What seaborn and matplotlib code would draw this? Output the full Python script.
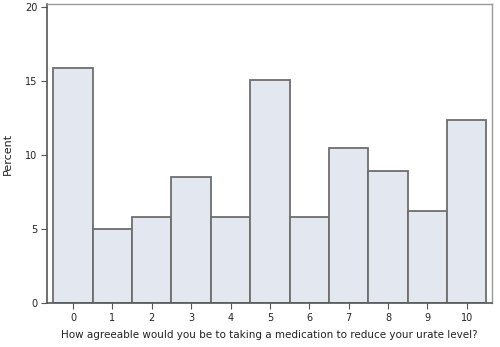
import matplotlib
matplotlib.use('Agg')
import matplotlib.pyplot as plt
import seaborn as sns
import pandas as pd

# Data
scores = ['0', '1', '2', '3', '4', '5', '6', '7', '8', '9', '10']
percent = [15.9, 5.0, 5.8, 8.5, 5.8, 15.1, 5.8, 10.5, 8.9, 6.2, 12.4]

df = pd.DataFrame({'score': scores, 'percent': percent})

sns.set_style('white')
plt.rcParams['font.family'] = ['DejaVu Sans']

fig = plt.figure(figsize=(5, 3.47), dpi=100)
ax = fig.add_axes([0.094, 0.127, 0.89, 0.861])

sns.barplot(data=df, x='score', y='percent', order=scores, width=1.0,
            color='#E3E7F0', edgecolor='#6E6E6E', linewidth=1.3,
            saturation=1, ax=ax)

ax.set_xlim(-0.66, 10.64)
ax.set_ylim(0, 20.2)
ax.set_yticks([0, 5, 10, 15, 20])

ax.set_xlabel('How agreeable would you be to taking a medication to reduce your urate level?',
              fontsize=7.5, color='#222222', labelpad=5)
ax.set_ylabel('Percent', fontsize=8, color='#222222', labelpad=9)
ax.tick_params(axis='both', which='both', labelsize=7, colors='#222222',
               length=4, width=0.8, direction='out', pad=3,
               left=True, bottom=True)
ax.tick_params(axis='both', color='#555555')

for side in ['left', 'bottom']:
    ax.spines[side].set_color('#555555')
    ax.spines[side].set_linewidth(1.2)
for side in ['top', 'right']:
    ax.spines[side].set_color('#999999')
    ax.spines[side].set_linewidth(1.0)

fig.savefig('out.png', dpi=100)
